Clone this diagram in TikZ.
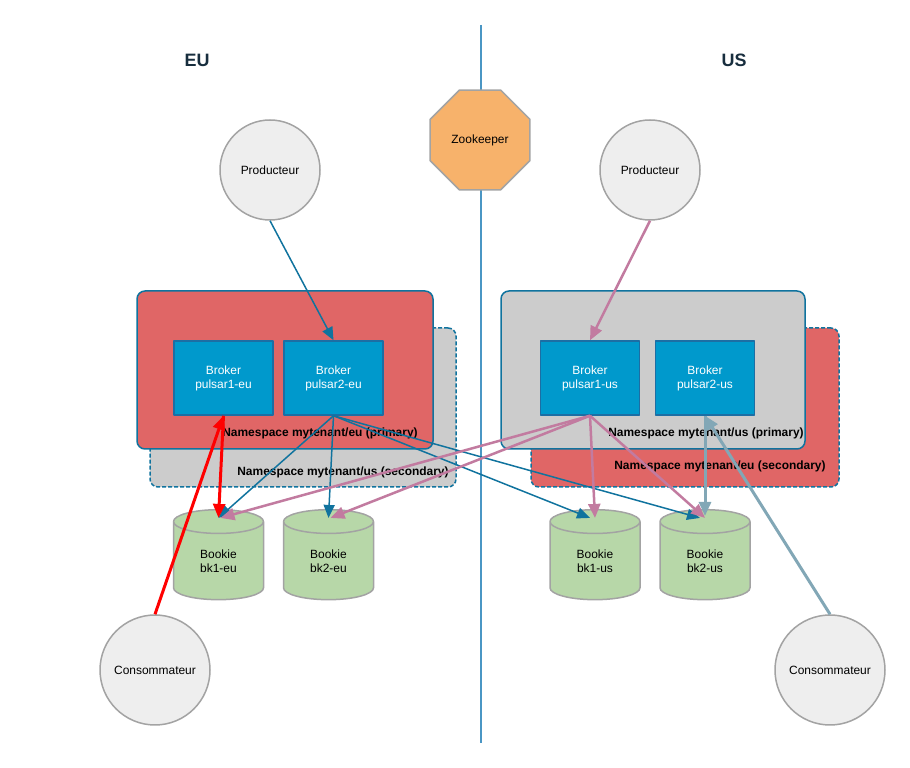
\documentclass[tikz,border=0pt]{standalone}
\usepackage{fontspec}
\setmainfont{Liberation Sans}
\usepackage{tikz}
\usetikzlibrary{arrows.meta,shapes.geometric}

\definecolor{nsred}{HTML}{E06666}
\definecolor{nsgray}{HTML}{CCCCCC}
\definecolor{nsstroke}{HTML}{10739E}
\definecolor{brokerfill}{HTML}{0099CC}
\definecolor{brokerstroke}{HTML}{1C6EA4}
\definecolor{bookiefill}{HTML}{B7D7A8}
\definecolor{shapestroke}{HTML}{A3A3A3}
\definecolor{clientfill}{HTML}{EEEEEE}
\definecolor{zkfill}{HTML}{F7B26B}
\definecolor{axecol}{HTML}{4A96C4}
\definecolor{flecheblue}{HTML}{10739E}
\definecolor{flechepink}{HTML}{C27BA0}
\definecolor{flechegray}{HTML}{82A7B6}
\definecolor{regiontext}{HTML}{182E3E}

\tikzset{
  client/.style={circle, draw=shapestroke, fill=clientfill, line width=1.5bp,
    minimum size=100bp, inner sep=0pt, font=\fontsize{12}{14}\selectfont},
  namespace/.style={rectangle, rounded corners=8bp, draw=nsstroke, line width=1.5bp,
    inner sep=0pt},
  nssecondary/.style={namespace, dash pattern=on 4bp off 2bp},
  nslabel/.style={font=\bfseries\fontsize{12}{14}\selectfont, inner sep=0pt},
  broker/.style={rectangle, draw=brokerstroke, fill=brokerfill, line width=1.5bp,
    minimum width=99bp, minimum height=74bp, inner sep=0pt, align=center,
    text=white, font=\fontsize{12}{14}\selectfont},
  bookie/.style={cylinder, shape border rotate=90, aspect=0.65, draw=shapestroke,
    fill=bookiefill, line width=1.5bp, minimum width=90bp, minimum height=90bp,
    inner sep=0pt, align=center, font=\fontsize{12}{14}\selectfont},
  region/.style={text=regiontext, font=\bfseries\fontsize{18}{20}\selectfont},
  flecheblue/.style={draw=flecheblue, line width=1.5bp, -{Triangle[length=13bp,width=11bp]}},
  flechepink/.style={draw=flechepink, line width=2.5bp, -{Triangle[length=14bp,width=12bp]}},
  flechered/.style={draw=red, line width=3bp, -{Triangle[length=14bp,width=12bp]}},
  flechegray/.style={draw=flechegray, line width=3bp, -{Triangle[length=14bp,width=12bp]}},
}

\begin{document}
\begin{tikzpicture}[line join=bevel]
  \useasboundingbox (0bp,0bp) rectangle (910bp,768bp);
%%
  % Axis: EU | US
  \coordinate (axetop) at (481bp,743bp);
  \coordinate (axebot) at (481bp,25bp);
  \draw [draw=axecol, line width=2bp] (axetop) -- (axebot);
  \node [region] (eu) at (197bp,708bp) {EU};
  \node [region] (us) at (734bp,708bp) {US};
  % Node: zookeeper
  \node [regular polygon, regular polygon sides=8, draw=shapestroke, fill=zkfill,
    line width=1.5bp, minimum size=108bp, inner sep=0pt,
    font=\fontsize{12}{14}\selectfont] (zk) at (480bp,628bp) {Zookeeper};
  % Node: producers
  \node [client] (prodeu) at (270bp,598bp) {Producteur};
  \node [client] (produs) at (650bp,598bp) {Producteur};
  % Node: namespaces EU side
  \node [nssecondary, fill=nsgray, minimum width=306bp, minimum height=159bp] (nsuss) at (303bp,360.5bp) {};
  \node [namespace, fill=nsred, minimum width=296bp, minimum height=158bp] (nseup) at (285bp,398bp) {};
  \node [nslabel] (nseupl) at (320bp,335bp) {Namespace mytenant/eu (primary)};
  \node [nslabel] (nsussl) at (343bp,296bp) {Namespace mytenant/us (secondary)};
  % Node: namespaces US side
  \node [nssecondary, fill=nsred, minimum width=308bp, minimum height=159bp] (nseus) at (685bp,360.5bp) {};
  \node [namespace, fill=nsgray, minimum width=304bp, minimum height=158bp] (nsusp) at (653bp,398bp) {};
  \node [nslabel] (nsuspl) at (706bp,335bp) {Namespace mytenant/us (primary)};
  \node [nslabel] (nseusl) at (720bp,302bp) {Namespace mytenant/eu (secondary)};
  % Node: brokers
  \node [broker] (pulsar1eu) at (223.5bp,390bp) {Broker\\pulsar1-eu};
  \node [broker] (pulsar2eu) at (333.5bp,390bp) {Broker\\pulsar2-eu};
  \node [broker] (pulsar1us) at (590bp,390bp) {Broker\\pulsar1-us};
  \node [broker] (pulsar2us) at (705bp,390bp) {Broker\\pulsar2-us};
  % Node: bookies
  \node [bookie] (bk1eu) at (218.5bp,207bp) {Bookie\\bk1-eu};
  \node [bookie] (bk2eu) at (328.5bp,207bp) {Bookie\\bk2-eu};
  \node [bookie] (bk1us) at (595bp,207bp) {Bookie\\bk1-us};
  \node [bookie] (bk2us) at (705bp,207bp) {Bookie\\bk2-us};
  % Node: consumers
  \node [client, minimum size=110bp] (conseu) at (155bp,98bp) {Consommateur};
  \node [client, minimum size=110bp] (consus) at (830bp,98bp) {Consommateur};
%%
  % Edge: prodeu -> pulsar2eu
  \draw [flecheblue] (prodeu.south) -- (pulsar2eu.north);
  % Edge: produs -> pulsar1us
  \draw [flechepink] (produs.south) -- (pulsar1us.north);
  % Edge: pulsar2eu -> bookies
  \draw [flecheblue] (pulsar2eu.south) -- ([yshift=-9bp]bk1eu.top);
  \draw [flecheblue] (pulsar2eu.south) -- ([yshift=-9bp]bk2eu.top);
  \draw [flecheblue] (pulsar2eu.south) -- ([xshift=-5bp,yshift=-9bp]bk1us.top);
  \draw [flecheblue] (pulsar2eu.south) -- ([xshift=-5bp,yshift=-9bp]bk2us.top);
  % Edge: pulsar1us -> bookies
  \draw [flechepink] (pulsar1us.south) -- ([xshift=2bp,yshift=-9bp]bk1eu.top);
  \draw [flechepink] (pulsar1us.south) -- ([xshift=2bp,yshift=-9bp]bk2eu.top);
  \draw [flechepink] (pulsar1us.south) -- ([yshift=-9bp]bk1us.top);
  \draw [flechepink] (pulsar1us.south) -- ([yshift=-9bp]bk2us.top);
  % Edge: conseu -> pulsar1eu -> bk1eu
  \draw [flechered] (conseu.north) -- (pulsar1eu.south);
  \draw [flechered] (pulsar1eu.south) -- ([yshift=-9bp]bk1eu.top);
  % Edge: consus -> pulsar2us -> bk2us
  \draw [flechegray] (consus.north) -- (pulsar2us.south);
  \draw [flechegray] (pulsar2us.south) -- ([yshift=-7bp]bk2us.top);
%
\end{tikzpicture}
\end{document}
